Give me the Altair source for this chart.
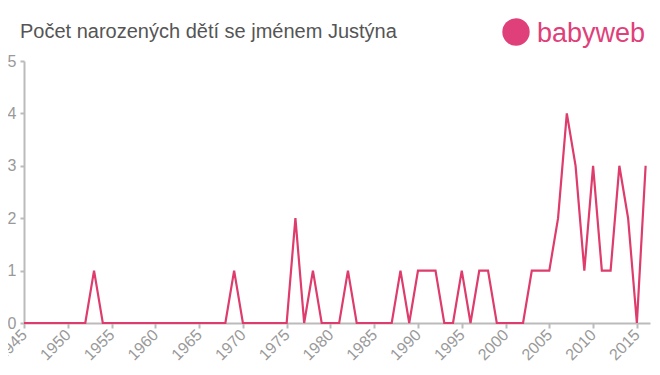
import altair as alt
import pandas as pd

years = list(range(1945, 2017))
counts = [
    0, 0, 0, 0, 0, 0, 0, 0, 1, 0,   # 1945-1954
    0, 0, 0, 0, 0, 0, 0, 0, 0, 0,   # 1955-1964
    0, 0, 0, 0, 1, 0, 0, 0, 0, 0,   # 1965-1974
    0, 2, 0, 1, 0, 0, 0, 1, 0, 0,   # 1975-1984
    0, 0, 0, 1, 0, 1, 1, 1, 0, 0,   # 1985-1994
    1, 0, 1, 1, 0, 0, 0, 0, 1, 1,   # 1995-2004
    1, 2, 4, 3, 1, 3, 1, 1, 3, 2,   # 2005-2014
    0, 3,                           # 2015-2016
]
x_ticks = list(range(1945, 2020, 5))
title_text = "Počet narozených dětí se jménem Justýna"
logo_text = "babyweb"

df = pd.DataFrame({"year": years, "count": counts})

FONT = "Liberation Sans"
PINK = "#e0407a"

line = alt.Chart(df).mark_line(color="#dd3c6c", strokeWidth=2.2).encode(
    x=alt.X("year:Q",
            scale=alt.Scale(domain=[1945, 2016.5], nice=False, zero=False),
            axis=alt.Axis(values=x_ticks, format="d", labelAngle=-45, labelAlign="right",
                          labelBaseline="middle", labelFontSize=16, labelColor="#999999",
                          domainColor="#bbbbbb", tickColor="#bbbbbb", domainWidth=2,
                          tickSize=5, tickWidth=2, grid=False, title=None, labelPadding=4,
                          labelFont=FONT, labelOverlap=False)),
    y=alt.Y("count:Q",
            scale=alt.Scale(domain=[0, 5], nice=False),
            axis=alt.Axis(values=[0, 1, 2, 3, 4, 5], labelFontSize=16, labelColor="#999999",
                          domainColor="#bbbbbb", tickColor="#bbbbbb", domainWidth=2,
                          tickSize=4, tickWidth=2, grid=False, title=None, labelPadding=4,
                          labelFont=FONT)),
)

tdf = pd.DataFrame({"t": [title_text]})
title = alt.Chart(tdf).mark_text(font=FONT, fontSize=20, color="#555555", align="left",
                                 baseline="alphabetic").encode(
    text="t:N", x=alt.value(-4), y=alt.value(-23))

logo_df = pd.DataFrame({"t": [logo_text]})
logo = alt.Chart(logo_df).mark_text(font=FONT, fontSize=27, color=PINK, align="left",
                                    baseline="middle").encode(
    text="t:N", x=alt.value(513), y=alt.value(-27))
icon = alt.Chart(logo_df).mark_point(filled=True, color=PINK, size=750, opacity=1).encode(
    x=alt.value(492), y=alt.value(-29))

chart = alt.layer(line, title, icon, logo).properties(
    width=626, height=262,
    autosize=alt.AutoSizeParams(type="none"),
    padding={"left": 16, "top": 53, "right": 2, "bottom": 50},
).configure_view(stroke=None)

chart.save("out.html", embed_options={"renderer": "svg", "actions": False})
